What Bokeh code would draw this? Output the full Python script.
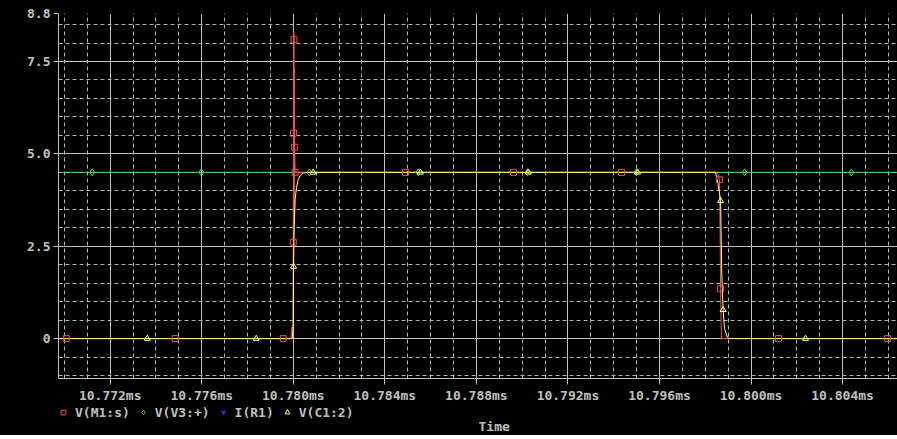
from bokeh.plotting import figure
from bokeh.layouts import column
from bokeh.models import Range1d, FixedTicker, Legend, LegendItem, Label
from bokeh.embed import file_html
from bokeh.resources import INLINE

# ---------------- data (time in microseconds, values in V / A) ----------------
x_tick_values = [10772, 10776, 10780, 10784, 10788, 10792, 10796, 10800, 10804]
x_tick_labels = ["10.772ms", "10.776ms", "10.780ms", "10.784ms", "10.788ms",
                 "10.792ms", "10.796ms", "10.800ms", "10.804ms"]
x_minor_ticks = [10770, 10771, 10773, 10774, 10775, 10777, 10778, 10779, 10781, 10782,
                 10783, 10785, 10786, 10787, 10789, 10790, 10791, 10793, 10794, 10795,
                 10797, 10798, 10799, 10801, 10802, 10803, 10805, 10806]
y_tick_values = [0, 2.5, 5.0, 7.5, 8.8]
y_tick_labels = ["0", "2.5", "5.0", "7.5", "8.8"]
y_minor_ticks = [-1.0, -0.5, 0.5, 1.0, 1.5, 2.0, 3.0, 3.5, 4.0, 4.5, 5.5, 6.0, 6.5,
                 7.0, 8.0, 8.5]
x_axis_title = "Time"

# V(M1:s)
m1_t = [10769.0, 10779.90, 10779.92, 10779.98, 10780.00, 10780.01, 10780.02, 10780.03,
        10780.04, 10780.05, 10780.06, 10780.08, 10780.30, 10798.45, 10798.55, 10798.62,
        10798.65, 10798.67, 10798.69, 10798.71, 10798.75, 10807.0]
m1_v = [0.0, 0.0, 0.3, 0.3, 2.61, 5.56, 8.3, 8.09, 3.24, 7.35, 5.18, 4.5, 4.5, 4.5,
        4.45, 4.3, 2.8, 1.35, 0.5, 0.0, 0.0, 0.0]
m1_mark_t = [10770.08, 10774.84, 10779.56, 10780.00, 10780.01, 10780.03, 10780.06,
             10780.08, 10784.90, 10789.62, 10794.34, 10798.62, 10798.67, 10801.20, 10805.97]
m1_mark_v = [0.0, 0.0, 0.0, 2.61, 5.56, 8.09, 5.18, 4.5, 4.5, 4.5, 4.5, 4.3, 1.35, 0.0, 0.0]

# V(V3:+)
v3_t = [10769.0, 10807.0]
v3_v = [4.5, 4.5]
v3_mark_t = [10771.21, 10775.98, 10780.70, 10785.46, 10790.23, 10794.99, 10799.72, 10804.39]
v3_mark_v = [4.5, 4.5, 4.5, 4.5, 4.5, 4.5, 4.5, 4.5]

# I(R1): listed in the legend, no trace visible in this window
r1_t = [float("nan")]
r1_v = [float("nan")]

# V(C1:2)
c1_t = [10769.0, 10779.95, 10780.00, 10780.01, 10780.04, 10780.08, 10780.14, 10780.22,
        10780.31, 10780.44, 10780.60, 10798.45, 10798.55, 10798.62, 10798.67, 10798.72,
        10798.78, 10798.84, 10798.97, 10799.06, 10807.0]
c1_v = [0.0, 0.0, 0.4, 1.95, 3.0, 3.77, 4.1, 4.31, 4.42, 4.48, 4.5, 4.5, 4.2, 3.95,
        3.73, 1.8, 0.78, 0.27, 0.03, 0.0, 0.0]
c1_mark_t = [10773.62, 10778.38, 10780.01, 10780.87, 10785.55, 10790.27, 10795.04,
             10798.67, 10798.78, 10802.38]
c1_mark_v = [0.0, 0.0, 1.95, 4.5, 4.5, 4.5, 4.5, 3.73, 0.78, 0.0]

series_names = ["V(M1:s)", "V(V3:+)", "I(R1)", "V(C1:2)"]

# ---------------- styling ----------------
RED = "#F05050"
GREEN = "#60D060"
BLUE = "#2828C8"
YELLOW = "#FFFF80"
GRAY = "#C0C0C0"
FONT = "DejaVu Sans Mono"

p = figure(width=897, height=405, output_backend="svg", toolbar_location=None,
           x_range=Range1d(10769.74, 10806.40), y_range=Range1d(-1.08, 8.8),
           min_border_left=58, min_border_right=0, min_border_top=13, min_border_bottom=25,
           background_fill_color="black", border_fill_color="black",
           outline_line_color=None)

# axes
p.xaxis.ticker = FixedTicker(ticks=x_tick_values, minor_ticks=x_minor_ticks)
p.yaxis.ticker = FixedTicker(ticks=y_tick_values, minor_ticks=y_minor_ticks)
p.xaxis.major_label_overrides = dict(zip(x_tick_values, x_tick_labels))
p.yaxis.major_label_overrides = dict(zip(y_tick_values, y_tick_labels))
for ax in (p.xaxis, p.yaxis):
    ax.axis_line_color = GRAY
    ax.major_tick_line_color = GRAY
    ax.minor_tick_line_color = None
    ax.major_tick_in = 0
    ax.major_label_text_color = GRAY
    ax.major_label_text_font = FONT
    ax.major_label_text_font_style = "bold"
    ax.major_label_text_font_size = "13px"
p.xaxis.major_tick_out = 6
p.xaxis.major_label_standoff = 3
p.yaxis.major_tick_out = 5
p.yaxis.major_label_standoff = 3

# grids
for g in (p.xgrid, p.ygrid):
    g.grid_line_color = GRAY
    g.grid_line_width = 1
    g.minor_grid_line_color = "#B4B4B4"
    g.minor_grid_line_dash = "4 3"
    g.minor_grid_line_width = 1

# traces
p.line(v3_t, v3_v, line_color=GREEN, line_width=1)
p.line(m1_t, m1_v, line_color=RED, line_width=1)
p.line(c1_t, c1_v, line_color=YELLOW, line_width=1)

marker_styles = [
    dict(marker="square", size=6, line_color=RED, fill_color=None, line_width=1),
    dict(marker="diamond", size=7, line_color=GREEN, fill_color=None, line_width=1),
    dict(marker="inverted_triangle", size=6, line_color=BLUE, fill_color=BLUE),
    dict(marker="triangle", size=6, line_color=YELLOW, fill_color=None, line_width=1),
]
p.scatter(v3_mark_t, v3_mark_v, **marker_styles[1])
p.scatter(m1_mark_t, m1_mark_v, **marker_styles[0])
p.scatter(r1_t, r1_v, **marker_styles[2])
p.scatter(c1_mark_t, c1_mark_v, **marker_styles[3])

# ---------------- legend strip (below the x axis labels) ----------------
# its frame is aligned with the main frame (starts 58 px from the left)
leg = figure(width=897, height=30, output_backend="svg", toolbar_location=None,
             x_range=Range1d(58, 897), y_range=Range1d(0, 30),
             x_axis_location=None, y_axis_location=None,
             min_border_left=58, min_border_right=0, min_border_top=0, min_border_bottom=0,
             background_fill_color="black", border_fill_color=None,
             outline_line_color=None)
leg.xgrid.grid_line_color = None
leg.ygrid.grid_line_color = None

proxies = [leg.scatter([float("nan")], [float("nan")], **st) for st in marker_styles]
legend = Legend(items=[LegendItem(label=n, renderers=[r]) for n, r in zip(series_names, proxies)],
                orientation="horizontal", location=(-1, 15),
                background_fill_color="black", background_fill_alpha=1,
                border_line_color=None, label_text_color=GRAY, label_text_font=FONT,
                label_text_font_style="bold", label_text_font_size="13px",
                glyph_width=12, glyph_height=16, label_height=16, label_standoff=6,
                spacing=7, padding=0, margin=0)
leg.add_layout(legend)

leg.add_layout(Label(x=478, y=9, text=x_axis_title, text_align="left",
                     text_baseline="middle", text_font=FONT, text_font_style="bold",
                     text_font_size="13px", text_color=GRAY))

page = column(p, leg, spacing=0, styles={"background-color": "black"})
open("out.html", "w").write(file_html(page, INLINE))
